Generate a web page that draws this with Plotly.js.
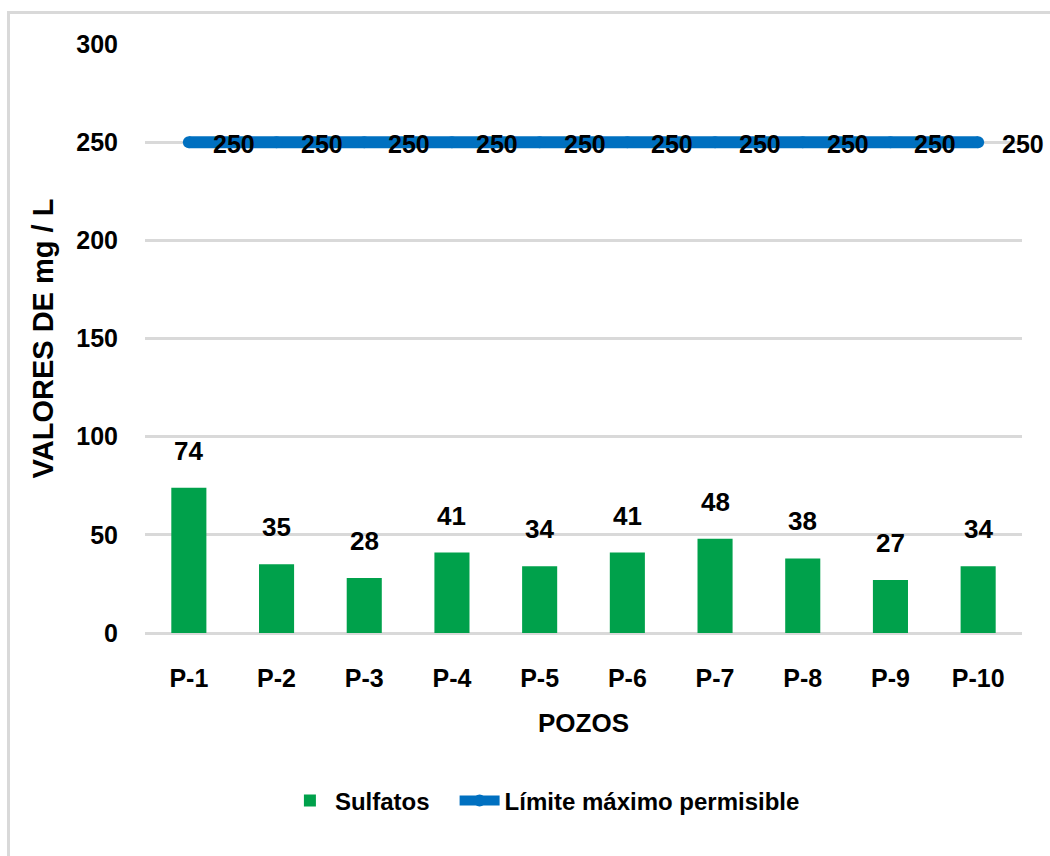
<!DOCTYPE html>
<html>
<head>
<meta charset="utf-8">
<script src="https://cdn.plot.ly/plotly-3.0.1.min.js"></script>
<style>
  html, body { margin: 0; padding: 0; background: #fff; }
  #frame { position: absolute; left: 7px; top: 11px; width: 1100px; height: 900px;
           border-left: 3px solid #d9d9d9; border-top: 3px solid #d9d9d9; }
  #chart { position: absolute; left: 0; top: 0; width: 1050px; height: 856px; }
</style>
</head>
<body>
<div id="frame"></div>
<div id="chart"></div>
<script>
const categories = ["P-1", "P-2", "P-3", "P-4", "P-5", "P-6", "P-7", "P-8", "P-9", "P-10"];
const sulfatos = [74, 35, 28, 41, 34, 41, 48, 38, 27, 34];
const limite = [250, 250, 250, 250, 250, 250, 250, 250, 250, 250];
const yTicks = [0, 50, 100, 150, 200, 250, 300];

const FONT = '"Liberation Sans", Arial, sans-serif';
function f(size) { return { family: FONT, size: size, color: '#000', weight: 'bold' }; }

const traces = [
  {
    type: 'bar', name: 'Sulfatos\u00a0\u00a0\u00a0', x: categories, y: sulfatos,
    marker: { color: '#00A14B' }, hoverinfo: 'x+y'
  },
  {
    type: 'scatter', mode: 'lines+markers', name: 'Límite máximo permisible',
    x: categories, y: limite,
    line: { color: '#0070C0', width: 12 },
    marker: { color: '#0070C0', size: 12, symbol: 'circle', line: { width: 0 } },
    cliponaxis: false
  }
];

const annotations = [];
categories.forEach((c, i) => {
  annotations.push({
    x: c, y: sulfatos[i], xref: 'x', yref: 'y', text: String(sulfatos[i]),
    showarrow: false, yanchor: 'bottom', yshift: 20, font: f(26)
  });
  annotations.push({
    x: c, y: limite[i], xref: 'x', yref: 'y', text: String(limite[i]),
    showarrow: false, xanchor: 'center', yanchor: 'middle', xshift: 45, yshift: -2, font: f(25)
  });
});

const layout = {
  width: 1050, height: 856,
  margin: { l: 145, r: 28, t: 44, b: 223 },
  paper_bgcolor: 'rgba(0,0,0,0)', plot_bgcolor: 'rgba(0,0,0,0)',
  bargap: 0.6,
  showlegend: true,
  legend: {
    orientation: 'h', x: 0.456, xanchor: 'center', y: -0.285, yanchor: 'middle',
    font: f(24), itemwidth: 40, traceorder: 'normal'
  },
  xaxis: {
    type: 'category', categoryarray: categories, range: [-0.5, 9.5], autorange: false,
    showline: false, showgrid: false, ticks: '', zeroline: false,
    ticklabelstandoff: 28,
    tickfont: f(25),
    title: { text: 'POZOS', font: f(26), standoff: 22 }
  },
  yaxis: {
    range: [0, 300], autorange: false, tickvals: yTicks, ticktext: yTicks.map(String),
    showgrid: true, gridcolor: '#d9d9d9', gridwidth: 3,
    zeroline: true, zerolinecolor: '#d9d9d9', zerolinewidth: 3,
    showline: false, ticks: '', ticklabelstandoff: 26,
    tickfont: f(25),
    title: { text: 'VALORES DE mg / L', font: f(29), standoff: 14 }
  },
  annotations: annotations
};

Plotly.newPlot('chart', traces, layout, { displayModeBar: false, responsive: false });
</script>
</body>
</html>
